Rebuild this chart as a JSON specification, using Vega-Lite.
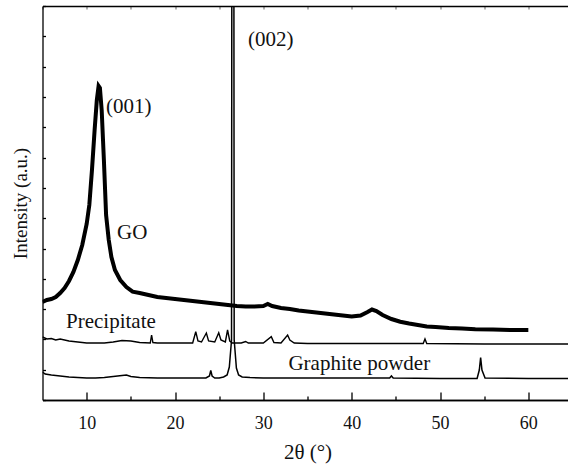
{
  "$schema": "https://vega.github.io/schema/vega-lite/v6.json",
  "width": 530,
  "height": 394,
  "autosize": {"type": "none"},
  "padding": {"left": 42.5, "top": 6, "right": 0, "bottom": 64},
  "background": "white",
  "config": {
    "view": {"stroke": null},
    "font": "Liberation Serif",
    "axis": {"domainColor": "black", "domainWidth": 1.3, "tickColor": "black", "tickWidth": 1.3, "grid": false, "labelFont": "Liberation Serif", "titleFont": "Liberation Serif", "labelColor": "#111", "titleColor": "#111", "titleFontWeight": "normal"}
  },
  "datasets": {
    "xrd": [
      {"s": "GO", "t": 5, "v": 98}, {"s": "GO", "t": 5.5, "v": 100}, {"s": "GO", "t": 6, "v": 101}, {"s": "GO", "t": 6.5, "v": 103}, {"s": "GO", "t": 7, "v": 107}, {"s": "GO", "t": 7.5, "v": 112}, {"s": "GO", "t": 8, "v": 119}, {"s": "GO", "t": 8.5, "v": 128}, {"s": "GO", "t": 9, "v": 140}, {"s": "GO", "t": 9.5, "v": 155}, {"s": "GO", "t": 10, "v": 176}, {"s": "GO", "t": 10.3, "v": 195}, {"s": "GO", "t": 10.6, "v": 230}, {"s": "GO", "t": 10.9, "v": 270}, {"s": "GO", "t": 11.15, "v": 300}, {"s": "GO", "t": 11.35, "v": 314}, {"s": "GO", "t": 11.5, "v": 312}, {"s": "GO", "t": 11.7, "v": 290}, {"s": "GO", "t": 11.95, "v": 240}, {"s": "GO", "t": 12.2, "v": 185}, {"s": "GO", "t": 12.5, "v": 160}, {"s": "GO", "t": 12.8, "v": 143}, {"s": "GO", "t": 13.2, "v": 130}, {"s": "GO", "t": 13.8, "v": 120}, {"s": "GO", "t": 14.5, "v": 113}, {"s": "GO", "t": 15.2, "v": 108.3}, {"s": "GO", "t": 16, "v": 107}, {"s": "GO", "t": 17, "v": 105}, {"s": "GO", "t": 18, "v": 103}, {"s": "GO", "t": 19, "v": 102}, {"s": "GO", "t": 20, "v": 101}, {"s": "GO", "t": 21, "v": 100}, {"s": "GO", "t": 22, "v": 99}, {"s": "GO", "t": 23, "v": 98}, {"s": "GO", "t": 24, "v": 97}, {"s": "GO", "t": 25, "v": 96}, {"s": "GO", "t": 26, "v": 95}, {"s": "GO", "t": 27, "v": 94}, {"s": "GO", "t": 28, "v": 93.5}, {"s": "GO", "t": 29, "v": 93.5}, {"s": "GO", "t": 30, "v": 94}, {"s": "GO", "t": 30.5, "v": 96}, {"s": "GO", "t": 31, "v": 94}, {"s": "GO", "t": 32, "v": 92}, {"s": "GO", "t": 33, "v": 91}, {"s": "GO", "t": 34, "v": 89.5}, {"s": "GO", "t": 35, "v": 88.5}, {"s": "GO", "t": 36, "v": 87.5}, {"s": "GO", "t": 37, "v": 86.5}, {"s": "GO", "t": 38, "v": 85.5}, {"s": "GO", "t": 39, "v": 84.5}, {"s": "GO", "t": 40, "v": 83.5}, {"s": "GO", "t": 41, "v": 84.5}, {"s": "GO", "t": 41.8, "v": 88}, {"s": "GO", "t": 42.3, "v": 90.5}, {"s": "GO", "t": 42.8, "v": 89}, {"s": "GO", "t": 43.5, "v": 85}, {"s": "GO", "t": 44.5, "v": 81}, {"s": "GO", "t": 45.5, "v": 78.3}, {"s": "GO", "t": 46.5, "v": 76.5}, {"s": "GO", "t": 47.5, "v": 75}, {"s": "GO", "t": 48.5, "v": 73.5}, {"s": "GO", "t": 49.5, "v": 73}, {"s": "GO", "t": 51, "v": 72}, {"s": "GO", "t": 52.5, "v": 71.5}, {"s": "GO", "t": 54, "v": 70.7}, {"s": "GO", "t": 56, "v": 70.5}, {"s": "GO", "t": 58, "v": 70}, {"s": "GO", "t": 60, "v": 70},
      {"s": "P", "t": 5, "v": 63}, {"s": "P", "t": 5.5, "v": 61}, {"s": "P", "t": 6, "v": 61.5}, {"s": "P", "t": 6.5, "v": 60}, {"s": "P", "t": 7, "v": 61}, {"s": "P", "t": 8, "v": 59}, {"s": "P", "t": 9, "v": 58}, {"s": "P", "t": 10, "v": 57}, {"s": "P", "t": 11, "v": 57}, {"s": "P", "t": 12, "v": 57}, {"s": "P", "t": 13, "v": 58}, {"s": "P", "t": 14, "v": 59.5}, {"s": "P", "t": 15, "v": 59}, {"s": "P", "t": 16, "v": 57.5}, {"s": "P", "t": 17.2, "v": 57}, {"s": "P", "t": 17.35, "v": 65}, {"s": "P", "t": 17.5, "v": 57.5}, {"s": "P", "t": 18, "v": 57}, {"s": "P", "t": 20, "v": 57}, {"s": "P", "t": 22, "v": 57}, {"s": "P", "t": 22.35, "v": 68.3}, {"s": "P", "t": 22.6, "v": 59}, {"s": "P", "t": 23, "v": 58}, {"s": "P", "t": 23.55, "v": 67}, {"s": "P", "t": 23.8, "v": 59}, {"s": "P", "t": 24.5, "v": 58}, {"s": "P", "t": 24.95, "v": 67.3}, {"s": "P", "t": 25.2, "v": 60}, {"s": "P", "t": 25.7, "v": 58}, {"s": "P", "t": 25.95, "v": 70}, {"s": "P", "t": 26.2, "v": 59}, {"s": "P", "t": 26.5, "v": 57}, {"s": "P", "t": 27.5, "v": 57}, {"s": "P", "t": 28, "v": 58.5}, {"s": "P", "t": 28.3, "v": 57}, {"s": "P", "t": 30, "v": 57}, {"s": "P", "t": 30.9, "v": 63.3}, {"s": "P", "t": 31.2, "v": 57.5}, {"s": "P", "t": 32, "v": 57}, {"s": "P", "t": 32.75, "v": 65}, {"s": "P", "t": 33, "v": 60}, {"s": "P", "t": 33.5, "v": 57}, {"s": "P", "t": 35, "v": 56.5}, {"s": "P", "t": 40, "v": 56.5}, {"s": "P", "t": 48.1, "v": 56.5}, {"s": "P", "t": 48.3, "v": 61}, {"s": "P", "t": 48.5, "v": 56.5}, {"s": "P", "t": 55, "v": 56}, {"s": "P", "t": 60, "v": 56}, {"s": "P", "t": 65, "v": 56},
      {"s": "G", "t": 5, "v": 28}, {"s": "G", "t": 5.3, "v": 26}, {"s": "G", "t": 6, "v": 25}, {"s": "G", "t": 7, "v": 24}, {"s": "G", "t": 8, "v": 23}, {"s": "G", "t": 9, "v": 22.5}, {"s": "G", "t": 10, "v": 22}, {"s": "G", "t": 11, "v": 22}, {"s": "G", "t": 12, "v": 22.5}, {"s": "G", "t": 13, "v": 23.5}, {"s": "G", "t": 14, "v": 24.5}, {"s": "G", "t": 14.5, "v": 25}, {"s": "G", "t": 15, "v": 23.5}, {"s": "G", "t": 16, "v": 22.5}, {"s": "G", "t": 18, "v": 22}, {"s": "G", "t": 20, "v": 22}, {"s": "G", "t": 22, "v": 22}, {"s": "G", "t": 23.5, "v": 22}, {"s": "G", "t": 23.9, "v": 24}, {"s": "G", "t": 24.05, "v": 29.5}, {"s": "G", "t": 24.2, "v": 24}, {"s": "G", "t": 24.5, "v": 22}, {"s": "G", "t": 25, "v": 22}, {"s": "G", "t": 25.5, "v": 23}, {"s": "G", "t": 25.9, "v": 25}, {"s": "G", "t": 26.15, "v": 33}, {"s": "G", "t": 26.4, "v": 60}, {"s": "G", "t": 26.53, "v": 1500}, {"s": "G", "t": 26.57, "v": 1500}, {"s": "G", "t": 26.7, "v": 60}, {"s": "G", "t": 26.95, "v": 32}, {"s": "G", "t": 27.2, "v": 25}, {"s": "G", "t": 27.6, "v": 23}, {"s": "G", "t": 28.5, "v": 22.5}, {"s": "G", "t": 30, "v": 22}, {"s": "G", "t": 35, "v": 22}, {"s": "G", "t": 40, "v": 22}, {"s": "G", "t": 44.3, "v": 22}, {"s": "G", "t": 44.5, "v": 24}, {"s": "G", "t": 44.7, "v": 22}, {"s": "G", "t": 50, "v": 21.5}, {"s": "G", "t": 54.2, "v": 21.5}, {"s": "G", "t": 54.45, "v": 30}, {"s": "G", "t": 54.6, "v": 42.5}, {"s": "G", "t": 54.75, "v": 30}, {"s": "G", "t": 55.1, "v": 22}, {"s": "G", "t": 60, "v": 21.5}, {"s": "G", "t": 65, "v": 21.5}
    ],
    "labels": [
      {"t": 12.19, "v": 286.7, "label": "(001)"},
      {"t": 28.27, "v": 354.3, "label": "(002)"},
      {"t": 13.44, "v": 161, "label": "GO"},
      {"t": 7.66, "v": 72.3, "label": "Precipitate"},
      {"t": 32.84, "v": 30, "label": "Graphite powder"}
    ]
  },
  "resolve": {"axis": {"x": "independent", "y": "independent"}},
  "layer": [
    {
      "data": {"name": "xrd"},
      "transform": [{"filter": "datum.s === 'GO'"}],
      "mark": {"type": "line", "color": "black", "strokeWidth": 4, "clip": true},
      "encoding": {
        "x": {"field": "t", "type": "quantitative", "scale": {"domain": [5, 65], "nice": false},
          "axis": {"orient": "bottom", "values": [10, 20, 30, 40, 50, 60], "tickSize": -8, "labelFontSize": 18, "labelPadding": 22, "title": "2θ (°)", "titleFontSize": 21, "titlePadding": 9}},
        "y": {"field": "v", "type": "quantitative", "scale": {"domain": [0, 394], "nice": false, "zero": false},
          "axis": {"orient": "left", "values": [0, 30.3, 60.6, 90.9, 121.2, 151.5, 181.8, 212.1, 242.4, 272.7, 303, 333.3, 363.6, 393.9], "tickSize": -3, "labels": false, "title": "Intensity (a.u.)", "titleFontSize": 19, "titlePadding": 11}}
      }
    },
    {
      "data": {"name": "xrd"},
      "transform": [{"filter": "datum.s === 'P'"}],
      "mark": {"type": "line", "color": "black", "strokeWidth": 1.4, "clip": true},
      "encoding": {
        "x": {"field": "t", "type": "quantitative", "scale": {"domain": [5, 65], "nice": false},
          "axis": {"orient": "bottom", "values": [15, 25, 35, 45, 55, 65], "tickSize": -4, "labels": false, "title": null}},
        "y": {"field": "v", "type": "quantitative", "scale": {"domain": [0, 394], "nice": false, "zero": false}, "axis": null}
      }
    },
    {
      "data": {"name": "xrd"},
      "transform": [{"filter": "datum.s === 'G'"}],
      "mark": {"type": "line", "color": "black", "strokeWidth": 1.5, "clip": true},
      "encoding": {
        "x": {"field": "t", "type": "quantitative", "scale": {"domain": [5, 65], "nice": false},
          "axis": {"orient": "top", "values": [5, 10, 15, 20, 25, 30, 35, 40, 45, 50, 55, 60, 65], "tickSize": -3, "tickColor": "#888", "labels": false, "title": null}},
        "y": {"field": "v", "type": "quantitative", "scale": {"domain": [0, 394], "nice": false, "zero": false}, "axis": null}
      }
    },
    {
      "data": {"name": "labels"},
      "mark": {"type": "text", "align": "left", "baseline": "alphabetic", "fontSize": 21, "font": "Liberation Serif", "color": "#111"},
      "encoding": {
        "x": {"field": "t", "type": "quantitative", "axis": null},
        "y": {"field": "v", "type": "quantitative", "axis": null},
        "text": {"field": "label"}
      }
    }
  ]
}
